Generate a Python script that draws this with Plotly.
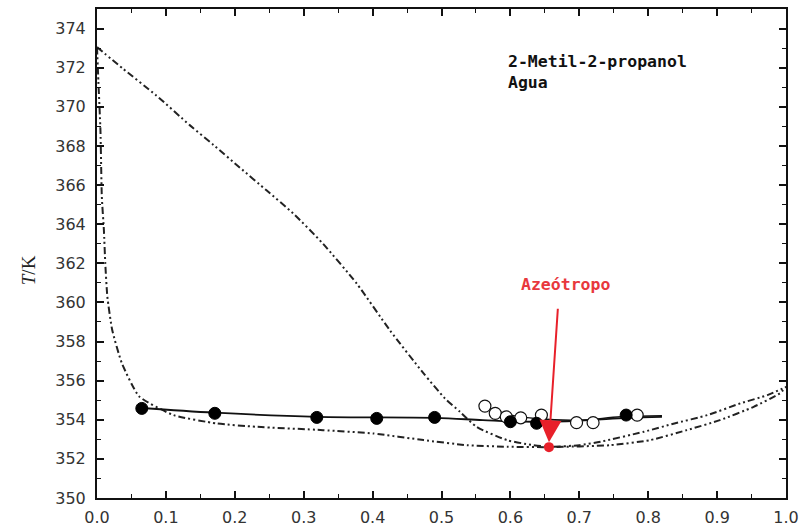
import plotly.graph_objects as go

# Dew curve (dash-dot-dot, upper)
dew_x = [0.0, 0.038, 0.086, 0.135, 0.169, 0.207, 0.246, 0.285, 0.328, 0.377, 0.425, 0.474, 0.505,
         0.527, 0.551, 0.595, 0.63, 0.656, 0.70, 0.731, 0.794, 0.838, 0.886, 0.934, 0.973, 1.0]
dew_T = [373.05, 371.94, 370.58, 369.05, 368.05, 366.9, 365.73, 364.54, 363.0, 360.96, 358.58, 356.37, 355.09,
         354.4, 353.64, 352.96, 352.72, 352.62, 352.7, 352.88, 353.39, 353.81, 354.24, 354.84, 355.26, 355.68]

# Bubble curve (dash-dot-dot, lower)
bub_x = [0.0, 0.002, 0.005, 0.007, 0.010, 0.012, 0.015, 0.022, 0.036, 0.061, 0.111, 0.174, 0.232, 0.328,
         0.401, 0.474, 0.537, 0.595, 0.656, 0.745, 0.803, 0.856, 0.904, 0.953, 0.991, 1.0]
bub_T = [373.05, 371.3, 368.8, 365.4, 363.7, 362.0, 360.3, 358.6, 356.9, 355.2, 354.24, 353.81, 353.64, 353.47,
         353.3, 352.96, 352.7, 352.62, 352.6, 352.7, 352.96, 353.47, 353.98, 354.66, 355.35, 355.68]

# Solid fitted lines
liq_x = [0.065, 0.171, 0.32, 0.49, 0.56, 0.62, 0.70, 0.77, 0.82]
liq_T = [354.6, 354.36, 354.15, 354.1, 353.98, 353.9, 353.95, 354.1, 354.15]
vap_x = [0.56, 0.60, 0.64, 0.70, 0.76, 0.82]
vap_T = [354.72, 354.25, 354.05, 353.98, 354.15, 354.2]

# Experimental points
filled_x = [0.065, 0.171, 0.319, 0.406, 0.49, 0.60, 0.638, 0.768]
filled_T = [354.58, 354.33, 354.12, 354.07, 354.12, 353.9, 353.82, 354.24]
open_x = [0.563, 0.578, 0.594, 0.615, 0.645, 0.696, 0.72, 0.784]
open_T = [354.7, 354.33, 354.15, 354.1, 354.24, 353.85, 353.85, 354.24]

azeo_x = [0.656]
azeo_T = [352.6]

x_ticks = [0.0, 0.1, 0.2, 0.3, 0.4, 0.5, 0.6, 0.7, 0.8, 0.9, 1.0]
y_ticks = list(range(350, 376, 2))

dash = "7px,3px,2px,3px,2px,3px"

fig = go.Figure()
fig.add_trace(go.Scatter(x=dew_x, y=dew_T, mode="lines", line=dict(color="#222", width=2, dash=dash, shape="spline", smoothing=0.6)))
fig.add_trace(go.Scatter(x=bub_x, y=bub_T, mode="lines", line=dict(color="#222", width=2, dash=dash, shape="spline", smoothing=0.5)))
fig.add_trace(go.Scatter(x=liq_x, y=liq_T, mode="lines", line=dict(color="#111", width=1.8, shape="spline")))
fig.add_trace(go.Scatter(x=vap_x, y=vap_T, mode="lines", line=dict(color="#111", width=1.5, shape="spline")))
fig.add_trace(go.Scatter(x=open_x, y=open_T, mode="markers",
                         marker=dict(symbol="circle", size=12, color="white", line=dict(color="#111", width=1.2))))
fig.add_trace(go.Scatter(x=filled_x, y=filled_T, mode="markers",
                         marker=dict(symbol="circle", size=12, color="black", line=dict(color="black", width=1))))
fig.add_trace(go.Scatter(x=azeo_x, y=azeo_T, mode="markers",
                         marker=dict(symbol="circle", size=10, color="#e8202a")))

mono = "DejaVu Sans Mono"
fig.add_annotation(x=0.593, y=372.9, xref="x", yref="y", text="<b>2-Metil-2-propanol<br>Agua</b>",
                   showarrow=False, xanchor="left", yanchor="top", align="left",
                   font=dict(family=mono, size=16.5, color="#111"))
fig.add_annotation(x=0.68, y=360.9, xref="x", yref="y", text="<b>Azeótropo</b>",
                   showarrow=False, xanchor="center", yanchor="middle",
                   font=dict(family=mono, size=16.5, color="#e8383d"))
fig.add_annotation(x=0.656, y=352.85, ax=0.669, ay=359.75, xref="x", yref="y", axref="x", ayref="y",
                   text="", showarrow=True, arrowhead=2, arrowsize=2.2, arrowwidth=2, arrowcolor="#e8202a")

fig.add_annotation(x=-0.100, y=0.466, xref="paper", yref="paper", text="<i>T</i>/K", textangle=-90,
                   showarrow=False, xanchor="center", yanchor="middle",
                   font=dict(family="Liberation Serif", size=19, color="#222"))

axis_common = dict(showline=True, linecolor="#111", linewidth=2, mirror="allticks",
                   ticks="inside", ticklen=7, tickwidth=1.5, tickcolor="#111",
                   showgrid=False, zeroline=False,
                   tickfont=dict(family="DejaVu Sans", size=16, color="#333"))

fig.update_xaxes(range=[0, 1], tickvals=x_ticks, ticktext=[f"{v:.1f}" for v in x_ticks],
                 minor=dict(dtick=0.05, ticks="inside", ticklen=4, tickcolor="#111", tickwidth=1.2),
                 ticklabelstandoff=4, automargin=False, **axis_common)
fig.update_yaxes(range=[350, 375], tickvals=y_ticks, ticktext=[str(v) for v in y_ticks],
                 minor=dict(dtick=1, ticks="inside", ticklen=4, tickcolor="#111", tickwidth=1.2),
                 ticklabelstandoff=6, automargin=False, **axis_common)

fig.update_layout(width=803, height=528, showlegend=False,
                  margin=dict(l=97, r=17, t=9, b=30),
                  paper_bgcolor="white", plot_bgcolor="white")

fig.write_html("out.html", config={"displayModeBar": False},
               post_script="document.body.style.margin='0';document.documentElement.style.overflow='hidden';")
